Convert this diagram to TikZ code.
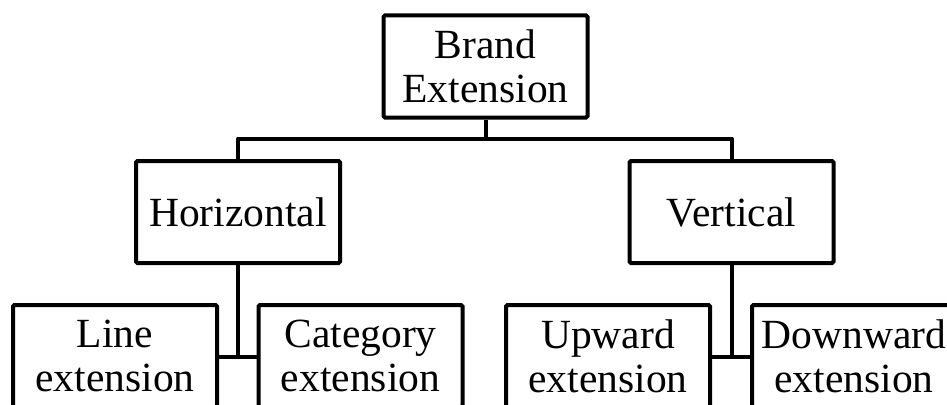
\documentclass[tikz,border=0pt]{standalone}
\usepackage{fontspec}
\setmainfont{Liberation Serif}
\begin{document}
\begin{tikzpicture}[x=1pt,y=-1pt,
  box/.style={draw, line width=4pt, rounded corners=1.5pt, minimum width=204pt,
    minimum height=102pt, inner sep=0pt, align=center,
    font=\fontsize{41.5}{44}\selectfont},
  link/.style={line width=4pt, line join=round}]
\useasboundingbox (0,0) rectangle (947,404);
\clip (0,0) rectangle (947,404);

% top level
\node[box] (brand) at (485.5,66.5) {Brand\\Extension};

% second level
\node[box] (horiz) at (238,212) {Horizontal};
\node[box] (vert)  at (731.5,212) {Vertical};

% third level
\node[box] (line) at (115,356)   {Line\\extension};
\node[box] (cat)  at (360.5,356) {Category\\extension};
\node[box] (up)   at (608,356)   {Upward\\extension};
\node[box] (down) at (854,356)   {Downward\\extension};

% junction points
\coordinate (bj) at (485.5,138.5);
\coordinate (hj) at (238,357);
\coordinate (vj) at (731.5,357);

% connectors
\draw[link] (brand.south) -- (bj);
\draw[link] (horiz.north) |- (bj) -| (vert.north);
\draw[link] (horiz.south) -- (hj);
\draw[link] (line.east |- hj) -- (cat.west |- hj);
\draw[link] (vert.south) -- (vj);
\draw[link] (up.east |- vj) -- (down.west |- vj);
\end{tikzpicture}
\end{document}
